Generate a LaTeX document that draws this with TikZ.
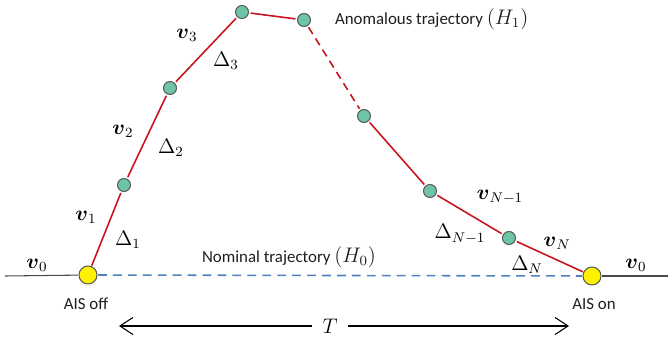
\documentclass[tikz,border=0pt]{standalone}
\usepackage{fontspec}
\setmainfont{Carlito}
\usepackage{amsmath}
\usetikzlibrary{arrows.meta, positioning, calc}
\definecolor{trajred}{RGB}{200, 20, 30}
\definecolor{dotfill}{RGB}{110, 196, 166}
\definecolor{rimgray}{RGB}{90, 90, 90}
\definecolor{nomblue}{RGB}{79, 129, 189}
\definecolor{darkgray}{RGB}{30, 30, 30}
\tikzset{
    fix/.style={
        circle, draw=rimgray, fill=dotfill, line width=0.6pt,
        minimum size=#1, inner sep=0pt, outer sep=1.2pt
    },
    fix/.default=13*0.02cm,
    ais/.style={
        circle, draw=rimgray, fill=yellow, line width=0.6pt,
        minimum size=18*0.02cm, inner sep=0pt, outer sep=0.6pt
    },
    traj/.style={trajred, line width=0.9pt},
    nominal/.style={nomblue, line width=0.9pt, dash pattern=on 5pt off 3.5pt},
    ground/.style={darkgray!80, line width=0.6pt},
    span/.style={-{Straight Barb[length=2.6mm, width=3.4mm]}, line width=0.6pt},
    anno/.style={font=\fontsize{9.6}{11}\selectfont, text=darkgray, inner sep=1pt},
    sym/.style={font=\fontsize{11.5}{13}\selectfont, inner sep=1pt}
}
\newcommand{\hyp}[1]{{\fontsize{11.5}{13}\selectfont$(H_{#1})$}}

\begin{document}
\begin{tikzpicture}[x=0.02cm, y=-0.02cm]
    \useasboundingbox (0,0) rectangle (672,341);

    % AIS switch points
    \node[ais] (off) at (88,275) {};
    \node[ais] (on) at (592,276) {};
    \coordinate (lft) at (5,276);
    \coordinate (rgt) at (668,276);

    % Reported positions
    \node[fix] (p1) at (124,185) {};
    \node[fix] (p2) at (170,88) {};
    \node[fix] (p3) at (242,12) {};
    \node[fix] (p4) at (304,20) {};
    \node[fix] (p5) at (364,116) {};
    \node[fix] (p6) at (430,191) {};
    \node[fix] (p7) at (509,238) {};

    % Ground track and nominal trajectory
    \draw[ground] (lft) -- (off);
    \draw[ground] (on) -- (rgt);
    \draw[nominal] (off) -- (on);

    % Anomalous trajectory
    \draw[traj] (off) -- (p1);
    \draw[traj] (p1) -- (p2);
    \draw[traj] (p2) -- (p3);
    \draw[traj] (p3) -- (p4);
    \draw[traj, dash pattern=on 4.5pt off 3pt] (p4) -- (p5);
    \draw[traj] (p5) -- (p6);
    \draw[traj] (p6) -- (p7);
    \draw[traj] (p7) -- (on);

    % Velocities and intervals
    \node[sym] (v0l) at (37,265) {$\boldsymbol{v}_0$};
    \node[sym] (v0r) at (636,265) {$\boldsymbol{v}_0$};
    \node[sym] (v1) at (86,217) {$\boldsymbol{v}_1$};
    \node[sym] (d1) at (128,240) {$\Delta_1$};
    \node[sym] (v2) at (123,131) {$\boldsymbol{v}_2$};
    \node[sym] (d2) at (171,148) {$\Delta_2$};
    \node[sym] (v3) at (187,35) {$\boldsymbol{v}_3$};
    \node[sym] (d3) at (226,61) {$\Delta_3$};
    \node[sym] (vn1) at (500,197) {$\boldsymbol{v}_{N-1}$};
    \node[sym] (dn1) at (460,234) {$\Delta_{N-1}$};
    \node[sym] (vn) at (557,243) {$\boldsymbol{v}_N$};
    \node[sym] (dn) at (527,265) {$\Delta_N$};

    % Captions
    \node[anno] (offlbl) at (86,304) {AIS off};
    \node[anno] (onlbl) at (594,304) {AIS on};
    \node[anno, anchor=west] (h1) at (333,19) {Anomalous trajectory \hyp{1}};
    \node[anno] (h0) at (289,257) {Nominal trajectory \hyp{0}};

    % Duration
    \coordinate (tl) at (119,326);
    \coordinate (tr) at (569,326);
    \node[sym, inner sep=6pt] (T) at (330,326) {$T$};
    \draw[span] (T) -- (tl);
    \draw[span] (T) -- (tr);

\end{tikzpicture}
\end{document}
